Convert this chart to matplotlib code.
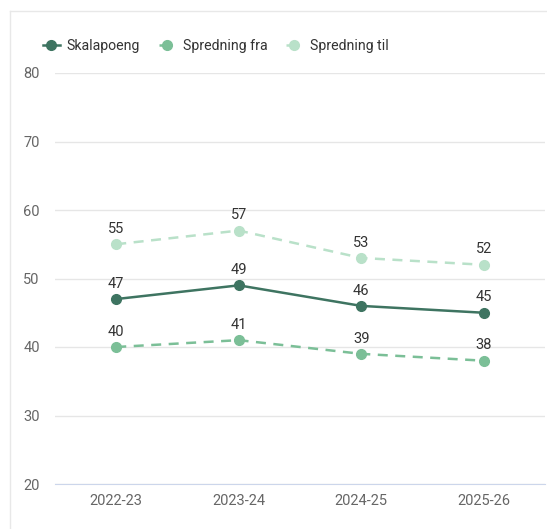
import matplotlib.pyplot as plt
from matplotlib.lines import Line2D

plt.rcParams['font.family'] = ['Roboto', 'DejaVu Sans']

# data
seasons = ["2022-23", "2023-24", "2024-25", "2025-26"]
skalapoeng = [47, 49, 46, 45]
spredning_fra = [40, 41, 39, 38]
spredning_til = [55, 57, 53, 52]

series = [
    ("Skalapoeng", skalapoeng, "#3e7461", "-"),
    ("Spredning fra", spredning_fra, "#7bbf97", (0, (4, 3))),
    ("Spredning til", spredning_til, "#b9e1c9", (0, (4, 3))),
]

fig = plt.figure(figsize=(5.47, 5.29), dpi=100)
ax = fig.add_axes([55 / 547, 1 - 484 / 529, 490 / 547, 411 / 529])

x = list(range(len(seasons)))
for name, vals, col, ls in series:
    ax.plot(x, vals, color=col, linestyle=ls, linewidth=1.8,
            marker="o", markersize=7, label=name, zorder=3)
    for xi, v in zip(x, vals):
        ax.annotate(str(v), (xi, v), xytext=(0, 6), textcoords="offset points",
                    ha="center", va="bottom", fontsize=10.5, color="#333333")

ax.set_xlim(-0.5, len(seasons) - 0.5)
ax.set_ylim(20, 80)
ax.set_yticks(range(20, 81, 10))
ax.set_xticks(x)
ax.set_xticklabels(seasons)
ax.grid(axis="y", color="#e6e6e6", linewidth=1)
ax.set_axisbelow(True)
for s in ["top", "right", "left"]:
    ax.spines[s].set_visible(False)
ax.spines["bottom"].set_color("#ccd6eb")
ax.tick_params(axis="both", length=0, labelsize=10.5, labelcolor="#666666")
ax.tick_params(axis="y", pad=11)
ax.tick_params(axis="x", pad=7)

# card border
fig.add_artist(Line2D([10 / 547, 10 / 547], [0, 1 - 11 / 529], color="#e8e8e8", lw=1))
fig.add_artist(Line2D([10 / 547, 1], [1 - 11 / 529, 1 - 11 / 529], color="#e8e8e8", lw=1))

fig.legend(loc="upper left", bbox_to_anchor=(30 / 547, 1 - 26 / 529), ncol=3,
           frameon=False, fontsize=10.2, handlelength=1.2, columnspacing=1.3,
           handletextpad=0.5, labelcolor="#333333")

fig.savefig("out.png", dpi=100)
